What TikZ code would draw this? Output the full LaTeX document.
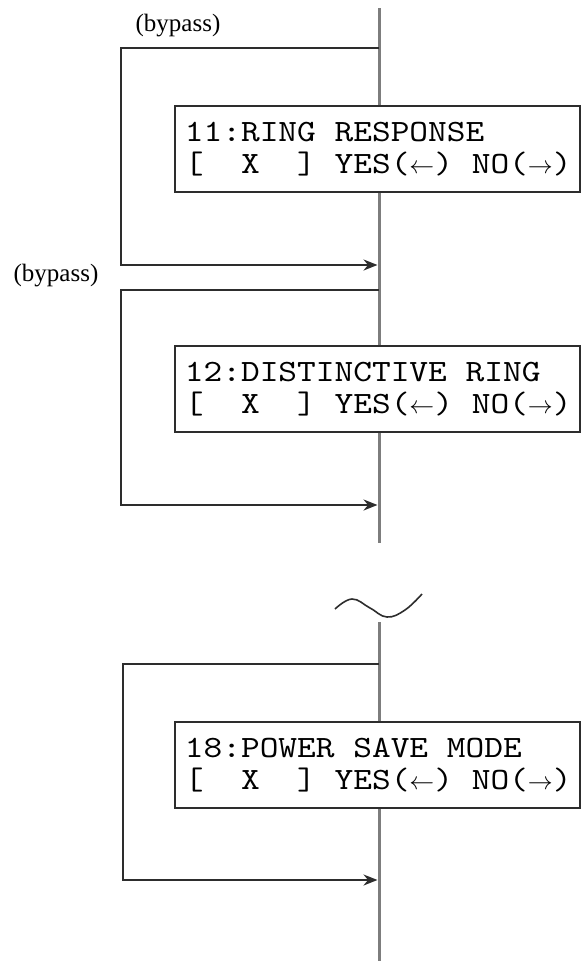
\documentclass[tikz,border=0pt]{standalone}
\usepackage{fontspec}
\setmainfont{Liberation Serif}
\newfontfamily\lcdfont[FakeStretch=1.15]{lmmono10-regular.otf}
\usepackage{tikz}
\usetikzlibrary{positioning, arrows.meta, calc}
\definecolor{railgray}{RGB}{125,125,125}
\definecolor{linedark}{RGB}{45,45,45}
\newcommand{\keyarrow}[1]{{\fontsize{23}{23}\selectfont$#1$}}
\newcommand{\cellgap}{\phantom{X}}

\begin{document}
\begin{tikzpicture}[>=Stealth, x=1pt, y=-1pt,
    mainline/.style={railgray, line width=3pt},
    bypass/.style={linedark, line width=2pt, ->, shorten >=1.5pt,
        arrows={->[length=14pt, width=11pt]}},
    menubox/.style={draw=linedark, line width=1.8pt, fill=white, anchor=north west,
        minimum height=86pt, text width=385pt, inner xsep=10pt, inner ysep=0pt, align=left,
        font=\lcdfont\fontsize{31}{32}\selectfont},
    bypasslabel/.style={font=\fontsize{25}{28}\selectfont, inner sep=0pt}]
    \useasboundingbox (0,0) rectangle (581,961);
    % main flow
    \coordinate (top) at (379,8);
    \coordinate (brk1) at (379,543);
    \coordinate (brk2) at (379,622);
    \coordinate (bot) at (379,961);
    \draw[mainline] (top) -- (brk1);
    \draw[mainline] (brk2) -- (bot);
    % bypass loops
    \coordinate (by1in) at (379,48);
    \coordinate (by1out) at (379,265);
    \coordinate (by2in) at (379,290);
    \coordinate (by2out) at (379,505);
    \coordinate (by3in) at (379,664);
    \coordinate (by3out) at (379,880);
    \draw[bypass] (by1in) -- ++(-258,0) |- (by1out);
    \draw[bypass] (by2in) -- ++(-258,0) |- (by2out);
    \draw[bypass] (by3in) -- ++(-256,0) |- (by3out);
    \node[bypasslabel] (lbl1) at (178,26) {(bypass)};
    \node[bypasslabel] (lbl2) at (56,276) {(bypass)};
    % menu items
    \node[menubox] (ring) at (174,105)
        {11:RING\cellgap RESPONSE\\{[}\cellgap\cellgap X\cellgap\cellgap]\cellgap YES(\keyarrow{\leftarrow})\cellgap NO(\keyarrow{\rightarrow})};
    \node[menubox] (dist) at (174,345)
        {12:DISTINCTIVE\cellgap RING\\{[}\cellgap\cellgap X\cellgap\cellgap]\cellgap YES(\keyarrow{\leftarrow})\cellgap NO(\keyarrow{\rightarrow})};
    \node[menubox] (psave) at (174,721)
        {18:POWER\cellgap SAVE\cellgap MODE\\{[}\cellgap\cellgap X\cellgap\cellgap]\cellgap YES(\keyarrow{\leftarrow})\cellgap NO(\keyarrow{\rightarrow})};
    % break mark
    \draw[linedark, line width=1.6pt] plot[smooth, tension=0.7] coordinates
        {(335,609) (352,599) (370,608) (387,617) (405,610) (422,594)};
\end{tikzpicture}
\end{document}
